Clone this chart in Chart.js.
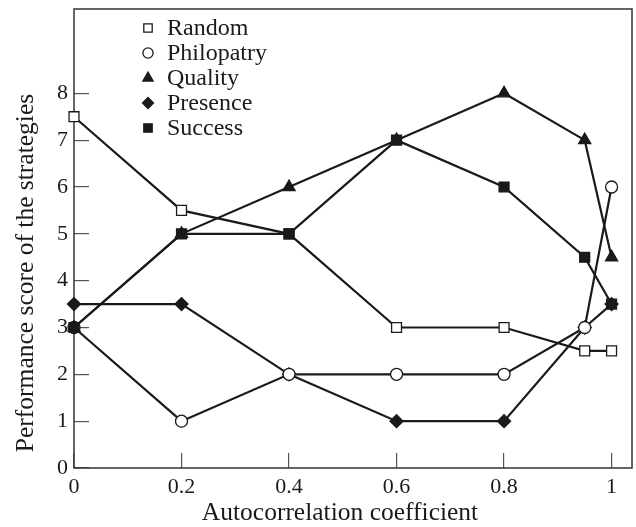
<!DOCTYPE html>
<html>
<head>
<meta charset="utf-8">
<script src="https://cdn.jsdelivr.net/npm/chart.js@4/dist/chart.umd.min.js"></script>
<style>
  html, body { margin: 0; padding: 0; background: #fff; }
  #wrap { width: 636px; height: 527px; }
</style>
</head>
<body>
<div id="wrap"><canvas id="chart" width="636" height="527"></canvas></div>
<script>
// values
const xValues = [0, 0.2, 0.4, 0.6, 0.8, 0.95, 1];
const random = [7.5, 5.5, 5, 3, 3, 2.5, 2.5];
const philopatry = [3, 1, 2, 2, 2, 3, 6];
const quality = [3, 5, 6, 7, 8, 7, 4.5];
const presence = [3.5, 3.5, 2, 1, 1, 3, 3.5];
const success = [3, 5, 5, 7, 6, 4.5, 3.5];

const xTicks = [0, 0.2, 0.4, 0.6, 0.8, 1];
const yTicks = [0, 1, 2, 3, 4, 5, 6, 7, 8];

const xTitle = 'Autocorrelation coefficient';
const yTitle = 'Performance score of the strategies';

const serif = '"Liberation Serif", "Times New Roman", serif';
const ink = '#1a1a1a';

function toPoints(ys) {
  return ys.map((y, i) => ({ x: xValues[i], y: y }));
}

function series(label, ys, style, fill, radius, order) {
  return {
    label: label,
    data: toPoints(ys),
    borderColor: ink,
    borderWidth: 2.2,
    pointStyle: style,
    pointRadius: radius,
    pointHoverRadius: radius,
    pointBackgroundColor: fill,
    pointBorderColor: ink,
    pointBorderWidth: 1.3,
    tension: 0,
    clip: false,
    order: order
  };
}

// frame, axis titles and legend drawn on top of the plot
const decorations = {
  id: 'decorations',
  beforeDatasetsDraw(chart) {
    const ctx = chart.ctx;
    const a = chart.chartArea;
    ctx.save();
    ctx.strokeStyle = '#333';
    ctx.lineWidth = 1.5;
    ctx.strokeRect(a.left, a.top, a.right - a.left, a.bottom - a.top);
    ctx.restore();
  },
  afterDraw(chart) {
    const ctx = chart.ctx;
    ctx.save();
    ctx.fillStyle = ink;
    ctx.font = '25.5px ' + serif;
    ctx.textAlign = 'center';
    ctx.textBaseline = 'alphabetic';
    ctx.fillText(xTitle, 340, 520);

    ctx.save();
    ctx.translate(33, 273);
    ctx.rotate(-Math.PI / 2);
    ctx.fillText(yTitle, 0, 0);
    ctx.restore();

    ctx.font = '24px ' + serif;
    ctx.textAlign = 'left';
    ctx.textBaseline = 'middle';
    chart.data.datasets.forEach((ds, i) => {
      const y = 28 + i * 25;
      ctx.fillStyle = ds.pointBackgroundColor;
      ctx.strokeStyle = ink;
      Chart.helpers.drawPoint(ctx, {
        pointStyle: ds.pointStyle,
        radius: ds.pointRadius * 0.85,
        borderWidth: 1.2,
        rotation: 0
      }, 148, y);
      ctx.fillStyle = ink;
      ctx.fillText(ds.label, 167, y + 1);
    });
    ctx.restore();
  }
};

const tickFont = { family: serif, size: 22 };

new Chart(document.getElementById('chart'), {
  type: 'line',
  data: {
    datasets: [
      series('Random', random, 'rect', '#fff', 7, 5),
      series('Philopatry', philopatry, 'circle', '#fff', 6, 3),
      series('Quality', quality, 'triangle', ink, 7, 2),
      series('Presence', presence, 'rectRot', ink, 6.5, 4),
      series('Success', success, 'rect', ink, 7, 1)
    ]
  },
  options: {
    responsive: false,
    animation: false,
    events: [],
    layout: { autoPadding: false, padding: { left: 0, top: 9, right: 4, bottom: 0 } },
    plugins: {
      legend: { display: false },
      tooltip: { enabled: false }
    },
    scales: {
      x: {
        type: 'linear',
        min: 0,
        max: 1.038,
        afterBuildTicks: scale => { scale.ticks = xTicks.map(v => ({ value: v })); },
        afterFit: scale => {
          scale.height = 59;
          scale.paddingLeft = 0;
          scale.paddingRight = 0;
        },
        border: { display: false },
        grid: { drawOnChartArea: false, tickLength: -15, color: '#555', lineWidth: 1.2 },
        ticks: { color: ink, font: tickFont, padding: 21, maxRotation: 0, callback: v => String(v) }
      },
      y: {
        min: 0,
        max: 9.8,
        afterBuildTicks: scale => { scale.ticks = yTicks.map(v => ({ value: v })); },
        afterFit: scale => {
          scale.width = 74;
          scale.paddingTop = 0;
          scale.paddingBottom = 0;
        },
        border: { display: false },
        grid: { drawOnChartArea: false, tickLength: -15, color: '#555', lineWidth: 1.2 },
        ticks: { color: ink, font: tickFont, padding: 21, callback: v => String(v) }
      }
    }
  },
  plugins: [decorations]
});
</script>
</body>
</html>
